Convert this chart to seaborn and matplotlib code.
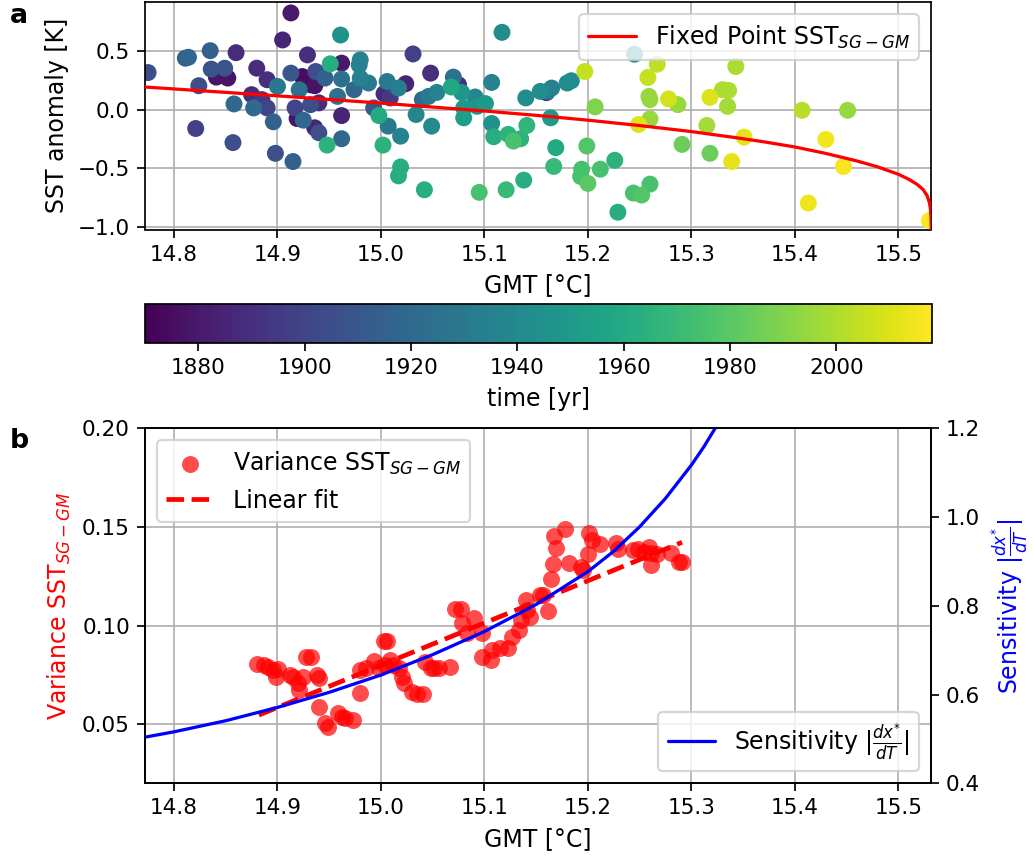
import numpy as np
import pandas as pd
import matplotlib
matplotlib.use("Agg")
import matplotlib.pyplot as plt
import seaborn as sns
from matplotlib.colors import Normalize
from matplotlib.cm import ScalarMappable

# ---------------- data ----------------
# panel a: annual points, GMT [°C] vs SST anomaly [K], coloured by year
gmt = [14.775, 14.811, 14.814, 14.835, 14.860, 14.836, 14.849, 14.841, 14.852, 14.824,
       14.821, 14.857, 14.858, 14.880, 14.890, 14.875, 14.885, 14.877, 14.890, 14.896,
       14.898, 14.915, 14.913, 14.905, 14.900, 14.913, 14.924, 14.921, 14.929, 14.917,
       14.919, 14.925, 14.932, 14.936, 14.936, 14.940, 14.948, 14.951, 14.937, 14.946,
       14.932, 14.940, 14.961, 14.962, 14.962, 14.958, 14.962, 14.962, 14.980, 14.979,
       14.980, 14.988, 14.974, 14.993, 14.998, 15.003, 15.007, 15.002, 15.009, 15.006,
       15.017, 15.024, 15.031, 15.019, 15.019, 15.017, 15.034, 15.040, 15.048, 15.046,
       15.054, 15.049, 15.042, 15.070, 15.068, 15.075, 15.078, 15.080, 15.080, 15.091,
       15.093, 15.101, 15.107, 15.117, 15.107, 15.109, 15.095, 15.123, 15.128, 15.135,
       15.141, 15.121, 15.138, 15.140, 15.154, 15.161, 15.160, 15.165, 15.180, 15.184,
       15.197, 15.164, 15.169, 15.167, 15.194, 15.193, 15.200, 15.199, 15.207, 15.212,
       15.226, 15.229, 15.245, 15.244, 15.252, 15.260, 15.249, 15.260, 15.259, 15.260,
       15.258, 15.267, 15.278, 15.287, 15.291, 15.315, 15.318, 15.318, 15.330, 15.335,
       15.336, 15.339, 15.343, 15.351, 15.407, 15.451, 15.430, 15.447, 15.413, 15.530]
sst = [0.315, 0.437, 0.445, 0.501, 0.484, 0.344, 0.352, 0.276, 0.268, 0.203,
       -0.161, -0.281, 0.048, 0.352, 0.254, 0.127, 0.085, 0.014, 0.014, -0.104,
       -0.372, -0.442, 0.822, 0.592, 0.197, 0.310, 0.281, 0.169, 0.465, 0.014,
       -0.076, -0.090, 0.211, 0.203, -0.155, -0.197, -0.302, 0.389, 0.324, 0.268,
       0.042, 0.057, 0.634, 0.395, 0.260, 0.112, -0.051, -0.248, 0.423, 0.380,
       0.268, 0.226, 0.169, 0.014, -0.051, 0.135, -0.141, -0.302, 0.099, 0.239,
       0.183, 0.220, 0.473, -0.226, -0.488, -0.564, -0.042, 0.085, 0.310, 0.112,
       0.146, -0.141, -0.682, 0.276, 0.192, 0.211, 0.146, 0.014, -0.070, 0.107,
       0.028, 0.051, 0.231, 0.657, -0.118, -0.231, -0.704, -0.211, -0.268, -0.248,
       -0.135, -0.682, -0.600, 0.099, 0.155, 0.155, 0.144, 0.183, 0.226, 0.245,
       0.324, -0.070, -0.324, -0.484, -0.507, -0.569, -0.628, -0.310, 0.023, -0.507,
       -0.431, -0.873, 0.471, -0.710, -0.727, -0.634, -0.127, -0.079, 0.112, 0.085,
       0.273, 0.386, 0.090, 0.042, -0.296, -0.135, -0.372, 0.104, 0.169, 0.028,
       0.163, -0.442, 0.366, -0.234, -0.006, -0.006, -0.254, -0.484, -0.795, -0.944]
year = [1905, 1915, 1918, 1915, 1888, 1908, 1908, 1878, 1878, 1905,
        1898, 1905, 1920, 1888, 1890, 1890, 1895, 1920, 1900, 1915,
        1905, 1915, 1880, 1885, 1930, 1910, 1875, 1925, 1890, 1900,
        1878, 1918, 1875, 1877, 1885, 1905, 1965, 1962, 1905, 1915,
        1905, 1890, 1945, 1880, 1925, 1925, 1885, 1918, 1935, 1936,
        1935, 1930, 1918, 1910, 1960, 1888, 1930, 1965, 1895, 1930,
        1932, 1885, 1898, 1935, 1962, 1962, 1938, 1920, 1890, 1930,
        1935, 1940, 1963, 1925, 1958, 1890, 1948, 1950, 1952, 1938,
        1945, 1950, 1935, 1942, 1945, 1962, 1975, 1965, 1975, 1965,
        1967, 1970, 1962, 1942, 1942, 1930, 1890, 1935, 1940, 1942,
        2005, 1950, 1960, 1970, 1975, 1975, 1980, 1978, 1990, 1975,
        1965, 1962, 1940, 1975, 1978, 1975, 2010, 1995, 1995, 1995,
        2005, 2003, 2008, 1995, 1985, 1998, 1985, 2010, 2000, 1998,
        2000, 2012, 2000, 2012, 2002, 1995, 2015, 2016, 2014, 2018]

# panel a: fixed point curve
fp_gmt = [14.772, 14.900, 15.000, 15.100, 15.150, 15.200, 15.250, 15.300, 15.343,
          15.370, 15.400, 15.430, 15.460, 15.480, 15.500, 15.510, 15.518, 15.524,
          15.528, 15.530, 15.531, 15.5316, 15.532]
fp_sst = [0.192, 0.117, 0.055, -0.012, -0.049, -0.090, -0.136, -0.187, -0.239,
          -0.274, -0.318, -0.373, -0.437, -0.487, -0.550, -0.592, -0.635, -0.680,
          -0.735, -0.790, -0.840, -0.920, -1.050]

# panel b: running variance vs GMT
var_gmt = [14.880, 14.887, 14.891, 14.896, 14.899, 14.901, 14.912, 14.915, 14.920, 14.921,
           14.925, 14.928, 14.932, 14.938, 14.940, 14.940, 14.946, 14.949, 14.959, 14.962,
           14.965, 14.973, 14.980, 14.980, 14.986, 14.993, 14.998, 15.003, 15.006, 15.004,
           15.009, 15.012, 15.017, 15.020, 15.022, 15.030, 15.035, 15.041, 15.043, 15.048,
           15.051, 15.056, 15.067, 15.072, 15.077, 15.078, 15.090, 15.083, 15.098, 15.098,
           15.106, 15.107, 15.115, 15.123, 15.127, 15.133, 15.135, 15.140, 15.141, 15.154,
           15.144, 15.157, 15.161, 15.164, 15.166, 15.167, 15.169, 15.178, 15.182, 15.193,
           15.195, 15.200, 15.201, 15.204, 15.212, 15.227, 15.229, 15.244, 15.248, 15.254,
           15.259, 15.261, 15.261, 15.267, 15.280, 15.288, 15.291]
var_sst = [0.0805, 0.0800, 0.0791, 0.0774, 0.0740, 0.0778, 0.0749, 0.0740, 0.0707, 0.0673,
           0.0740, 0.0839, 0.0839, 0.0749, 0.0732, 0.0588, 0.0504, 0.0487, 0.0555, 0.0538,
           0.0530, 0.0521, 0.0774, 0.0656, 0.0783, 0.0822, 0.0783, 0.0923, 0.0923, 0.0800,
           0.0825, 0.0800, 0.0783, 0.0740, 0.0707, 0.0664, 0.0651, 0.0651, 0.0817, 0.0783,
           0.0783, 0.0783, 0.0791, 0.1082, 0.1082, 0.1011, 0.1037, 0.0961, 0.0961, 0.0839,
           0.0825, 0.0876, 0.0885, 0.0885, 0.0943, 0.0977, 0.1028, 0.1129, 0.1079, 0.1155,
           0.1045, 0.1155, 0.1075, 0.1234, 0.1312, 0.1454, 0.1395, 0.1488, 0.1319, 0.1298,
           0.1282, 0.1363, 0.1468, 0.1434, 0.1412, 0.1420, 0.1387, 0.1383, 0.1387, 0.1374,
           0.1400, 0.1366, 0.1307, 0.1363, 0.1366, 0.1324, 0.1324]

# panel b: linear fit (end points)
fit_gmt = [14.882, 15.291]
fit_var = [0.0546, 0.1422]

# panel b: sensitivity |dx*/dT|
sens_gmt = [14.772, 14.800, 14.850, 14.900, 14.950, 15.000, 15.050, 15.100, 15.150,
            15.200, 15.225, 15.250, 15.275, 15.300, 15.312, 15.323, 15.335]
sens_val = [0.504, 0.516, 0.541, 0.571, 0.605, 0.644, 0.690, 0.742, 0.803,
            0.877, 0.923, 0.978, 1.042, 1.117, 1.158, 1.200, 1.250]

cbar_ticks = [1880, 1900, 1920, 1940, 1960, 1980, 2000]
xticks = [14.8, 14.9, 15.0, 15.1, 15.2, 15.3, 15.4, 15.5]

# ---------------- style ----------------
sns.set_style("ticks", {"axes.grid": True})
plt.rcParams.update({
    "font.family": "DejaVu Sans",
    "font.size": 10,
    "axes.labelsize": 11,
    "xtick.labelsize": 10,
    "ytick.labelsize": 10,
    "legend.fontsize": 11,
    "axes.edgecolor": "black",
    "axes.linewidth": 0.8,
    "axes.labelcolor": "black",
    "text.color": "black",
    "xtick.color": "black",
    "ytick.color": "black",
    "xtick.direction": "out",
    "ytick.direction": "out",
    "xtick.major.size": 3.5,
    "ytick.major.size": 3.5,
    "xtick.major.width": 0.8,
    "ytick.major.width": 0.8,
    "grid.color": "#b0b0b0",
    "grid.linewidth": 0.8,
    "legend.frameon": True,
    "legend.framealpha": 0.8,
    "legend.edgecolor": "0.8",
    "legend.fancybox": True,
})

DPI = 155
W, H = 1033, 859
fig = plt.figure(figsize=(W / DPI, H / DPI), dpi=DPI)
ax1 = fig.add_axes([145 / W, 1 - 229.5 / H, 786 / W, 227.5 / H])
cax = fig.add_axes([145 / W, 1 - 343 / H, 787 / W, 39 / H])
ax2 = fig.add_axes([145 / W, 1 - 783.3 / H, 786 / W, 355 / H])
ax3 = ax2.twinx()

norm = Normalize(vmin=1870, vmax=2018)

# ---- panel a ----
df_a = pd.DataFrame({"gmt": gmt, "sst": sst, "year": year}).sort_values("year", kind="stable")
sns.scatterplot(data=df_a, x="gmt", y="sst", hue="year", palette="viridis", hue_norm=norm,
                s=62, linewidth=0, legend=False, ax=ax1, zorder=2)
ax1.plot(fp_gmt, fp_sst, color="red", lw=1.5, zorder=3,
         label=r"Fixed Point SST$_{SG-GM}$")
ax1.set_xlim(14.772, 15.5316)
ax1.set_ylim(-1.02, 0.915)
ax1.set_xticks(xticks)
ax1.set_yticks([-1.0, -0.5, 0.0, 0.5])
ax1.set_xlabel("GMT [°C]")
ax1.set_ylabel("SST anomaly [K]")
ax1.grid(True)
ax1.legend(loc="upper right")

sm = ScalarMappable(norm=norm, cmap="viridis")
cb = fig.colorbar(sm, cax=cax, orientation="horizontal")
cb.set_ticks(cbar_ticks)
cb.set_label("time [yr]", fontsize=11)
cb.outline.set_edgecolor("black")
cb.outline.set_linewidth(0.8)
cax.grid(False)

# ---- panel b ----
sns.scatterplot(x=var_gmt, y=var_sst, color="red", alpha=0.7, s=62, linewidth=0,
                ax=ax2, label=r"Variance SST$_{SG-GM}$", zorder=2)
ax2.plot(fit_gmt, fit_var, color="red", ls="--", lw=2.2, zorder=3, label="Linear fit")
ax2.set_xlim(14.772, 15.5316)
ax2.set_ylim(0.02, 0.20)
ax2.set_xticks(xticks)
ax2.set_yticks([0.05, 0.10, 0.15, 0.20])
ax2.set_yticklabels(["0.05", "0.10", "0.15", "0.20"])
ax2.set_xlabel("GMT [°C]")
ax2.set_ylabel(r"Variance SST$_{SG-GM}$", color="red")
ax2.grid(True)
ax2.legend(loc="upper left")

ax3.plot(sens_gmt, sens_val, color="blue", lw=1.5, label=r"Sensitivity $|\frac{dx^{*}}{dT}|$")
ax3.set_ylim(0.4, 1.2)
ax3.set_yticks([0.4, 0.6, 0.8, 1.0, 1.2])
ax3.set_yticklabels(["0.4", "0.6", "0.8", "1.0", "1.2"])
ax3.set_ylabel(r"Sensitivity $|\frac{dx^{*}}{dT}|$", color="blue")
ax3.grid(False)
ax3.legend(loc="lower right")
for sp in ax3.spines.values():
    sp.set_edgecolor("black")

fig.text(10 / W, 1 - 16 / H, "a", fontsize=12.5, fontweight="bold", va="center", ha="left")
fig.text(10 / W, 1 - 441 / H, "b", fontsize=12.5, fontweight="bold", va="center", ha="left")

fig.savefig("out.png", dpi=DPI)
